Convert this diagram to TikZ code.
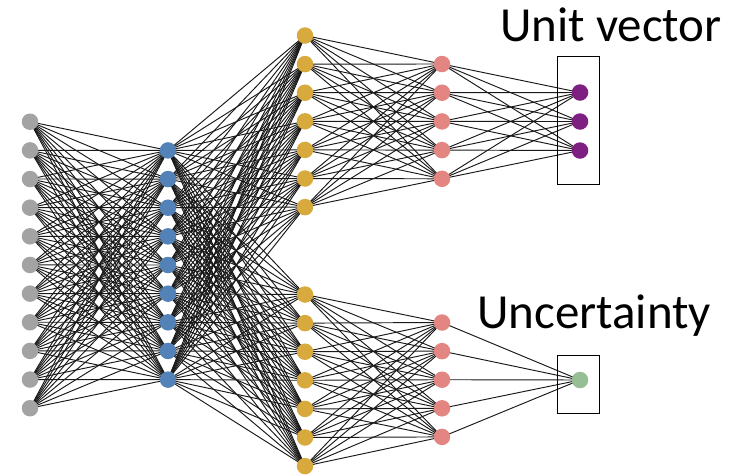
\documentclass[tikz,border=0pt]{standalone}
\usepackage{fontspec}
\setmainfont{Carlito}
\pgfdeclarelayer{bg}
\pgfsetlayers{bg,main}
\definecolor{cgray}{HTML}{A3A3A3}
\definecolor{cblue}{HTML}{5282B8}
\definecolor{cgold}{HTML}{D8A93C}
\definecolor{cpink}{HTML}{E38581}
\definecolor{cpurple}{HTML}{7E1F82}
\definecolor{cgreen}{HTML}{96BE94}
\tikzset{
  neuron/.style={circle,inner sep=0pt,minimum size=16.5pt,draw=none,fill=#1},
  link/.style={line width=0.95pt,black!90},
  outbox/.style={draw=black,line width=1.2pt},
  lbl/.style={font=\fontsize{49}{54}\selectfont,inner sep=0pt,anchor=base west}
}
\begin{document}
\begin{tikzpicture}[x=1pt,y=-1pt]
\useasboundingbox (0,0) rectangle (730,475);
% input layer
\foreach \i in {1,...,11} \node[neuron=cgray] (g\i) at (30,{121.7+28.65*(\i-1)}) {};
% hidden 1
\foreach \i in {1,...,9} \node[neuron=cblue] (b\i) at (168,{150.4+28.65*(\i-1)}) {};
% hidden 2 top / bottom
\foreach \i in {1,...,7} \node[neuron=cgold] (t\i) at (305,{35.5+28.6*(\i-1)}) {};
\foreach \i in {1,...,7} \node[neuron=cgold] (u\i) at (305,{294.5+28.6*(\i-1)}) {};
% hidden 3 top / bottom
\foreach \i in {1,...,5} \node[neuron=cpink] (p\i) at (442,{64+28.7*(\i-1)}) {};
\foreach \i in {1,...,5} \node[neuron=cpink] (q\i) at (442,{322.5+28.6*(\i-1)}) {};
% outputs
\foreach \i in {1,...,3} \node[neuron=cpurple] (o\i) at (580,{92.5+29*(\i-1)}) {};
\node[neuron=cgreen] (c) at (580,380) {};
% boxes
\node[outbox,minimum width=42pt,minimum height=127.5pt,inner sep=0pt] (box1) at (578.3,120.5) {};
\node[outbox,minimum width=42pt,minimum height=57.5pt,inner sep=0pt] (box2) at (578.3,384.5) {};
% labels
\node[lbl] (l1) at (500,41.5) {Unit vector};
\node[lbl] (l2) at (477,328.5) {Uncertainty};
\begin{pgfonlayer}{bg}
\foreach \i in {1,...,11} \foreach \j in {1,...,9} \draw[link] (g\i.center) -- (b\j.center);
\foreach \i in {1,...,9} \foreach \j in {1,...,7} {
  \draw[link] (b\i.center) -- (t\j.center);
  \draw[link] (b\i.center) -- (u\j.center);
}
\foreach \i in {1,...,7} \foreach \j in {1,...,5} {
  \draw[link] (t\i.center) -- (p\j.center);
  \draw[link] (u\i.center) -- (q\j.center);
}
\foreach \i in {1,...,5} {
  \foreach \j in {1,...,3} \draw[link] (p\i.center) -- (o\j.center);
  \draw[link] (q\i.center) -- (c.center);
}
\end{pgfonlayer}
\end{tikzpicture}
\end{document}
